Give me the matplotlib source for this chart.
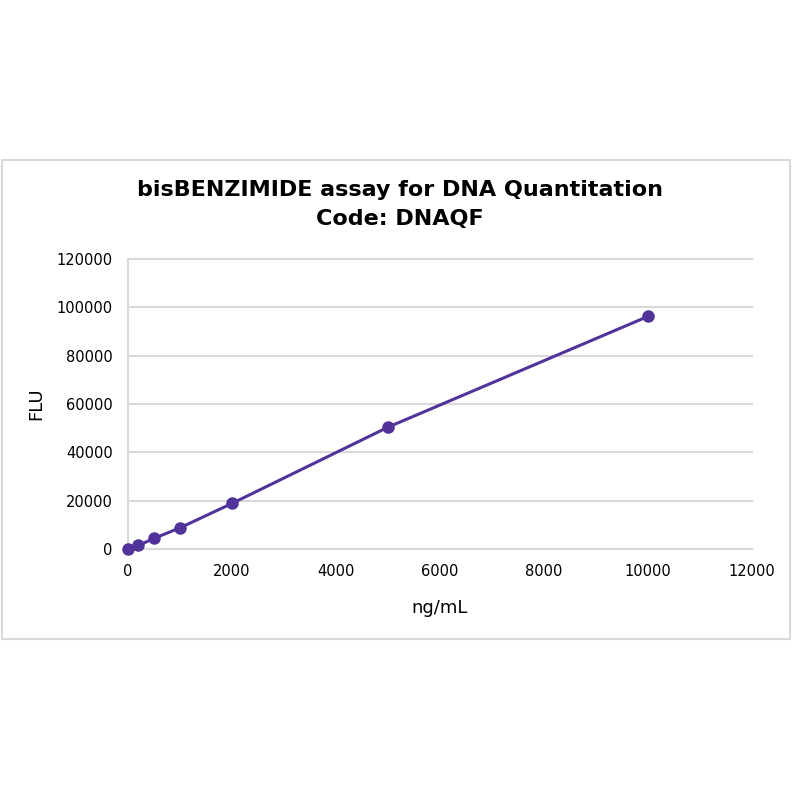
import matplotlib.pyplot as plt
from matplotlib.patches import Rectangle

conc = [0, 200, 500, 1000, 2000, 5000, 10000]
flu = [0, 1400, 4300, 8700, 18800, 50400, 96300]
x_ticks = [0, 2000, 4000, 6000, 8000, 10000, 12000]
y_ticks = [0, 20000, 40000, 60000, 80000, 100000, 120000]

purple = "#51339a"
grid_gray = "#d9d9d9"

fig = plt.figure(figsize=(8, 8), dpi=100)
fig.patches.append(Rectangle((0.002, 0.201), 0.985, 0.599, transform=fig.transFigure,
                             fill=False, edgecolor=grid_gray, linewidth=1.5))

ax = fig.add_axes([0.16, 0.314, 0.78, 0.362])
ax.plot(conc, flu, color=purple, linewidth=2.2, marker="o", markersize=8, zorder=3,
        clip_on=False)

ax.set_xlim(0, 12000)
ax.set_ylim(0, 120000)
ax.set_xticks(x_ticks)
ax.set_yticks(y_ticks)
ax.grid(axis="y", color=grid_gray, linewidth=1.5, clip_on=False)
ax.set_axisbelow(True)
for s in ["top", "right"]:
    ax.spines[s].set_visible(False)
for s in ["left", "bottom"]:
    ax.spines[s].set_color(grid_gray)
    ax.spines[s].set_linewidth(1.5)
ax.tick_params(length=0, labelsize=10.5, pad=11)

ax.set_xlabel("ng/mL", fontsize=13, labelpad=14)
ax.set_ylabel("FLU", fontsize=13, labelpad=8)

fig.text(0.5, 0.762, "bisBENZIMIDE assay for DNA Quantitation", ha="center", va="center",
         fontsize=16, fontweight="bold")
fig.text(0.5, 0.726, "Code: DNAQF", ha="center", va="center", fontsize=16, fontweight="bold")

fig.savefig("out.png", dpi=100, facecolor="white")
